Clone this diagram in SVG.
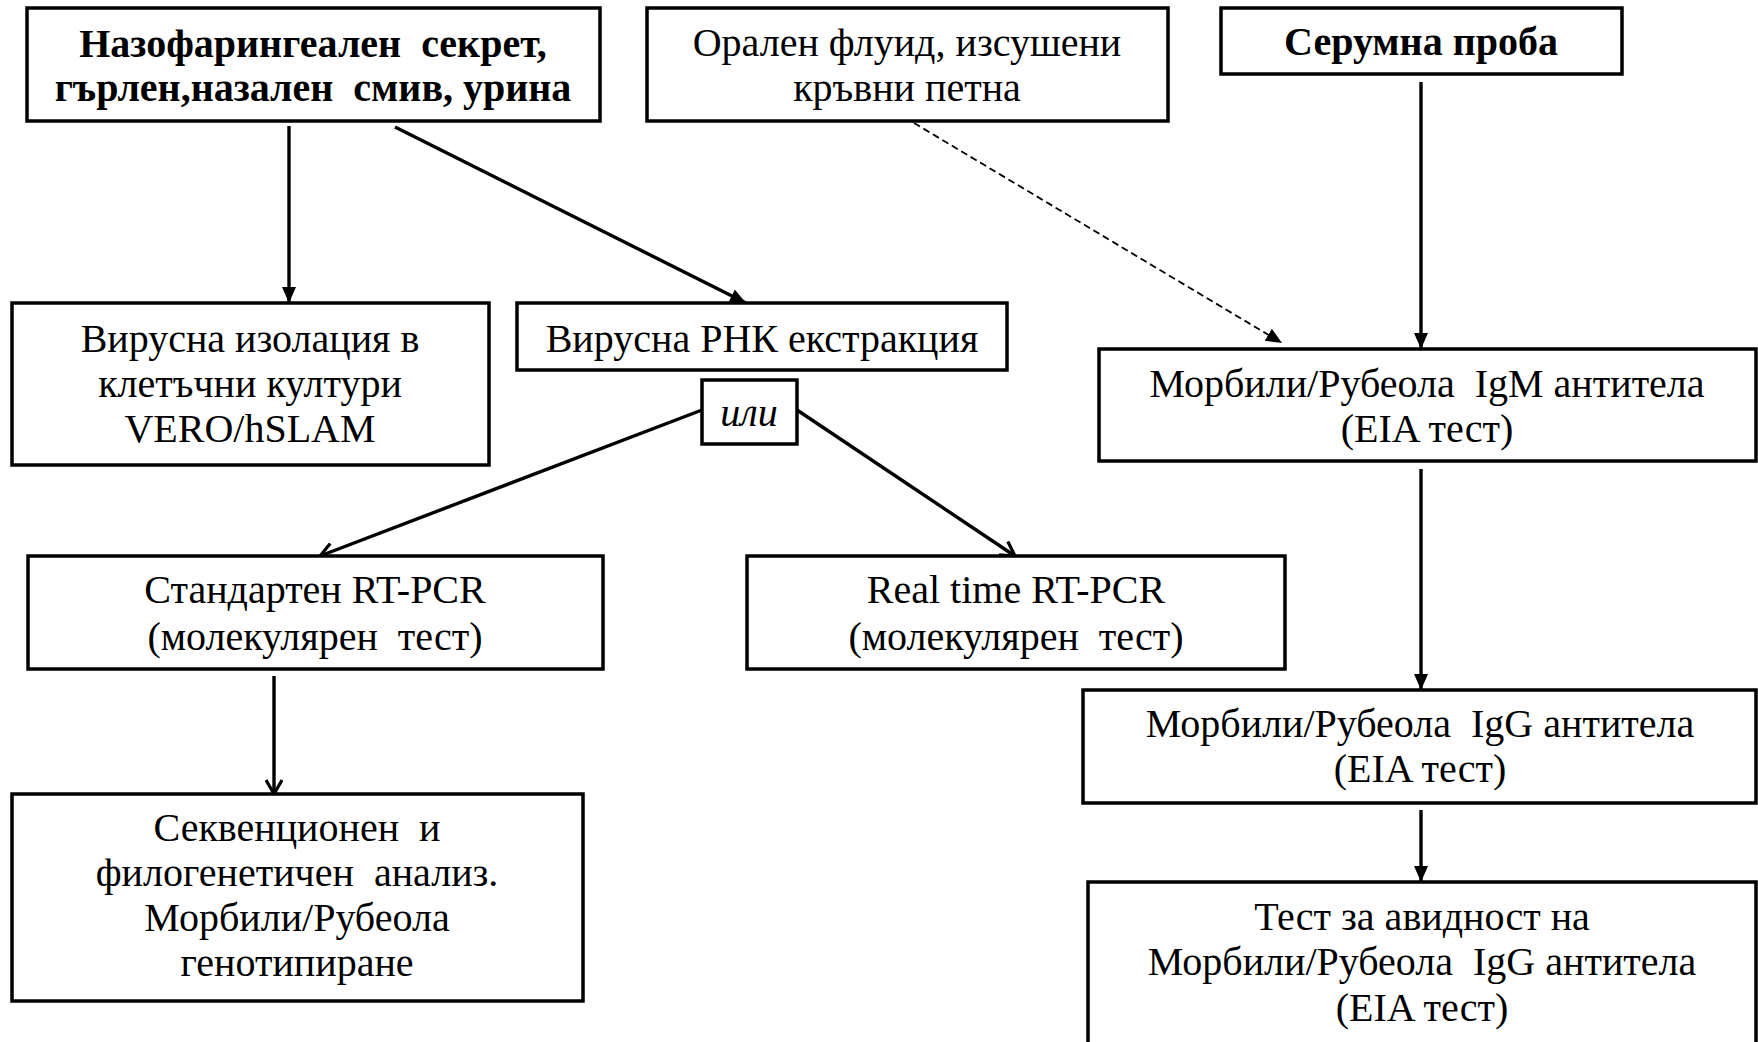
<svg xmlns="http://www.w3.org/2000/svg" width="1758" height="1042" viewBox="0 0 1758 1042">
<defs>
<marker id="tri" markerUnits="userSpaceOnUse" markerWidth="16" markerHeight="14" refX="16" refY="7" orient="auto">
<path d="M0,0 L16,7 L0,14 Z" fill="#000"/>
</marker>
<marker id="trid" markerUnits="userSpaceOnUse" markerWidth="16" markerHeight="14" refX="16" refY="7" orient="auto">
<path d="M0,0 L16,7 L0,14 Z" fill="#000"/>
</marker>
<marker id="vee" markerUnits="userSpaceOnUse" markerWidth="18" markerHeight="18" refX="15" refY="9" orient="auto">
<path d="M1,1 L15,9 L1,17" fill="none" stroke="#000" stroke-width="3.2"/>
</marker>
</defs>
<style>
.box{fill:#fff;stroke:#000;stroke-width:3.5}
text{font-family:"Liberation Serif","Times New Roman",serif;font-size:40px;fill:#000;text-anchor:middle;white-space:pre}
.b{font-weight:bold}
.i{font-style:italic}
.c{fill:none;stroke:#000;stroke-width:3.4}
.d{fill:none;stroke:#000;stroke-width:1.8;stroke-dasharray:7,4}
</style>
<rect width="1758" height="1042" fill="#fff"/>
<g id="connectors">
<line class="c" x1="289" y1="126" x2="289" y2="303" marker-end="url(#tri)"/>
<line class="c" x1="395" y1="127" x2="746" y2="303" marker-end="url(#tri)"/>
<line class="d" x1="914" y1="123" x2="1282" y2="343" marker-end="url(#trid)"/>
<line class="c" x1="1421" y1="82" x2="1421" y2="349" marker-end="url(#tri)"/>
<line class="c" x1="702" y1="410" x2="320" y2="556" marker-end="url(#vee)"/>
<line class="c" x1="797" y1="410" x2="1015" y2="556" marker-end="url(#vee)"/>
<line class="c" x1="274" y1="676" x2="274" y2="794" marker-end="url(#vee)"/>
<line class="c" x1="1421" y1="469" x2="1421" y2="690" marker-end="url(#tri)"/>
<line class="c" x1="1421" y1="810" x2="1421" y2="882" marker-end="url(#tri)"/>
</g>
<g id="n1"><rect class="box" x="27" y="8" width="573" height="113"/>
<text class="b" x="313" y="57">Назофарингеален  секрет,</text>
<text class="b" x="313" y="101">гърлен,назален  смив, урина</text></g>
<g id="n2"><rect class="box" x="647" y="8" width="521" height="113"/>
<text x="907" y="56">Орален флуид, изсушени</text>
<text x="907" y="101">кръвни петна</text></g>
<g id="n3"><rect class="box" x="1221" y="8" width="401" height="66"/>
<text class="b" x="1421" y="55">Серумна проба</text></g>
<g id="n4"><rect class="box" x="12" y="303" width="477" height="162"/>
<text x="250" y="352">Вирусна изолация в</text>
<text x="250" y="397">клетъчни култури</text>
<text x="250" y="442">VERO/hSLAM</text></g>
<g id="n5"><rect class="box" x="517" y="303" width="490" height="67"/>
<text x="762" y="352">Вирусна РНК екстракция</text></g>
<g id="n-ili"><rect class="box" x="702" y="380" width="95" height="64"/>
<text class="i" x="749" y="426">или</text></g>
<g id="n6"><rect class="box" x="1099" y="349" width="657" height="112"/>
<text x="1427" y="397">Морбили/Рубеола  IgM антитела</text>
<text x="1427" y="442">(EIA тест)</text></g>
<g id="n7"><rect class="box" x="28" y="556" width="575" height="113"/>
<text x="315" y="603">Стандартен RT-PCR</text>
<text x="315" y="650">(молекулярен  тест)</text></g>
<g id="n8"><rect class="box" x="747" y="556" width="538" height="113"/>
<text x="1016" y="603">Real time RT-PCR</text>
<text x="1016" y="650">(молекулярен  тест)</text></g>
<g id="n9"><rect class="box" x="1083" y="690" width="673" height="113"/>
<text x="1420" y="737">Морбили/Рубеола  IgG антитела</text>
<text x="1420" y="782">(EIA тест)</text></g>
<g id="n10"><rect class="box" x="12" y="794" width="571" height="207"/>
<text x="297" y="841">Секвенционен  и</text>
<text x="297" y="886">филогенетичен  анализ.</text>
<text x="297" y="931">Морбили/Рубеола</text>
<text x="297" y="976">генотипиране</text></g>
<g id="n11"><rect class="box" x="1088" y="882" width="668" height="170"/>
<text x="1422" y="930">Тест за авидност на</text>
<text x="1422" y="975">Морбили/Рубеола  IgG антитела</text>
<text x="1422" y="1021">(EIA тест)</text></g>
</svg>
